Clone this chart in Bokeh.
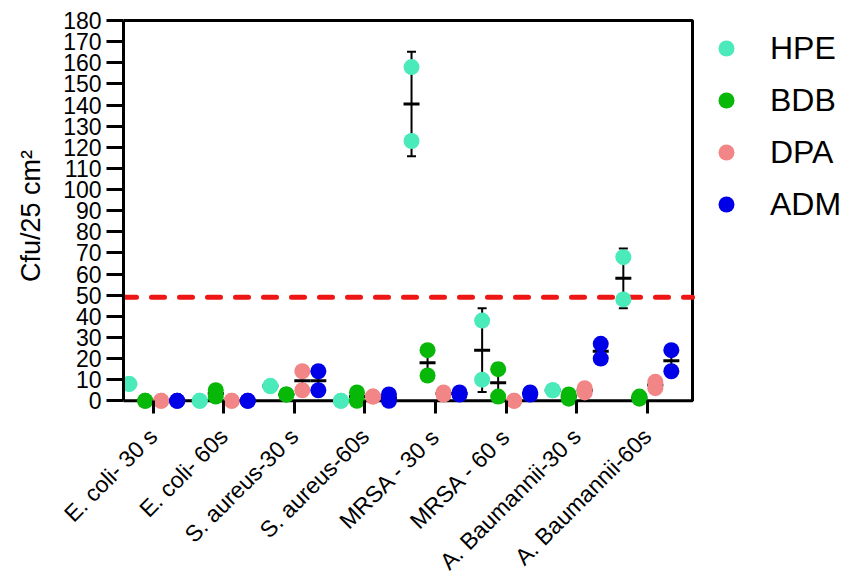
import math
import numpy as np
from bokeh.plotting import figure
from bokeh.models import (Range1d, FixedTicker, BoxAnnotation, Whisker, TeeHead,
                          ColumnDataSource, Legend, LegendItem)
from bokeh.transform import dodge
from bokeh.embed import file_html
from bokeh.resources import INLINE

# ---------------- data ----------------
categories = ["E. coli- 30 s", "E. coli- 60s", "S. aureus-30 s", "S. aureus-60s",
              "MRSA - 30 s", "MRSA - 60 s", "A. Baumannii-30 s", "A. Baumannii-60s"]
series_names = ["HPE", "BDB", "DPA", "ADM"]
# two replicate values per category
HPE = [[8, 8], [0, 0], [7, 7], [0, 0], [158, 123], [38, 10], [5, 5], [68, 48]]
BDB = [[0, 0], [5, 2], [3, 3], [4, 0], [24, 12], [15, 2], [3, 1], [2, 1]]
DPA = [[0, 0], [0, 0], [14, 5], [2, 2], [3, 4], [0, 0], [6, 4], [9, 6]]
ADM = [[0, 0], [0, 0], [14, 5], [3, 0], [3, 4], [3, 4], [27, 20], [24, 14]]
threshold = 49
y_ticks = list(range(0, 181, 10))

series_values = [HPE, BDB, DPA, ADM]
colors = ["#4AEABB", "#08B808", "#F28585", "#0000E8"]
offsets = [-0.34, -0.113, 0.113, 0.34]

FONT = "Liberation Sans"
XMIN, XBOX, XMAX = -0.42, 7.64, 9.807   # plot box spans XMIN..XBOX, legend lives beyond
YMIN, YTOP, YMAX = -6, 180, 181

p = figure(width=845, height=587, output_backend="svg", toolbar_location=None,
           x_range=Range1d(XMIN, XMAX), y_range=Range1d(YMIN, YMAX),
           min_border_left=123, min_border_right=0, min_border_top=18,
           min_border_bottom=174)
p.outline_line_color = None
p.grid.visible = False
p.background_fill_color = "white"
p.border_fill_color = "white"

# x axis (ticks drawn up from frame bottom to the zero line)
xa = p.xaxis[0]
xa.ticker = FixedTicker(ticks=list(range(len(categories))))
xa.major_label_overrides = {i: c for i, c in enumerate(categories)}
xa.major_label_orientation = math.pi / 4
xa.major_label_text_font = FONT
xa.major_label_text_font_size = "23px"
xa.major_label_text_color = "black"
xa.major_label_standoff = 19
xa.axis_line_color = None
xa.major_tick_in = 13
xa.major_tick_out = 0
xa.major_tick_line_width = 3
xa.major_tick_line_color = "black"
xa.minor_tick_line_color = None

# y axis
ya = p.yaxis[0]
ya.ticker = FixedTicker(ticks=y_ticks)
ya.bounds = (0, YTOP)
ya.axis_line_width = 3
ya.axis_line_color = "black"
ya.major_tick_line_width = 3
ya.major_tick_line_color = "black"
ya.major_tick_out = 17
ya.major_tick_in = 0
ya.minor_tick_line_color = None
ya.major_label_text_font = FONT
ya.major_label_text_font_size = "23px"
ya.major_label_text_color = "black"
ya.major_label_standoff = 5
ya.axis_label = "Cfu/25 cm\u00b2"
ya.axis_label_text_font = FONT
ya.axis_label_text_font_size = "27px"
ya.axis_label_text_font_style = "normal"
ya.axis_label_text_color = "black"
ya.axis_label_standoff = 14

# plot box (zero line, top and right borders)
p.add_layout(BoxAnnotation(left=XMIN, right=XBOX, bottom=0, top=YTOP, fill_color=None,
                           fill_alpha=0, line_color="black", line_alpha=1.0,
                           line_width=3, level="underlay"))

# threshold dashed line
p.segment(x0=[XMIN], x1=[XBOX], y0=[threshold], y1=[threshold], line_color="#EE1515",
          line_width=5, line_dash="13 15", line_cap="round")

renderers = []
for name, vals, col, off in zip(series_names, series_values, colors, offsets):
    arr = np.array(vals, dtype=float)
    mean = arr.mean(axis=1)
    sd = arr.std(axis=1, ddof=1)
    idx = np.arange(len(categories))
    stat = ColumnDataSource(dict(x=idx, mean=mean, upper=mean + sd, lower=mean - sd))
    w = Whisker(source=stat, base=dodge("x", off, range=p.x_range), upper="upper",
                lower="lower", line_width=2, line_color="black", level="underlay",
                upper_head=TeeHead(size=9, line_width=2, line_color="black"),
                lower_head=TeeHead(size=9, line_width=2, line_color="black"))
    p.add_layout(w)
    p.scatter(x=dodge("x", off, range=p.x_range), y="mean", source=stat, marker="dash",
              size=16, line_width=3, line_color="black")
    pts = ColumnDataSource(dict(x=np.repeat(idx, arr.shape[1]), y=arr.ravel()))
    r = p.scatter(x=dodge("x", off, range=p.x_range), y="y", source=pts, size=16,
                  fill_color=col, line_color=None)
    renderers.append(r)

legend = Legend(items=[LegendItem(label=n, renderers=[r]) for n, r in zip(series_names, renderers)],
                location=(583, 189), orientation="vertical",
                label_text_font=FONT, label_text_font_size="32px", label_text_color="black",
                glyph_width=40, glyph_height=40, label_height=40, label_standoff=24,
                spacing=12, padding=5, margin=0,
                border_line_color=None, background_fill_alpha=0)
p.add_layout(legend, "center")

open("out.html", "w").write(file_html(p, INLINE))
